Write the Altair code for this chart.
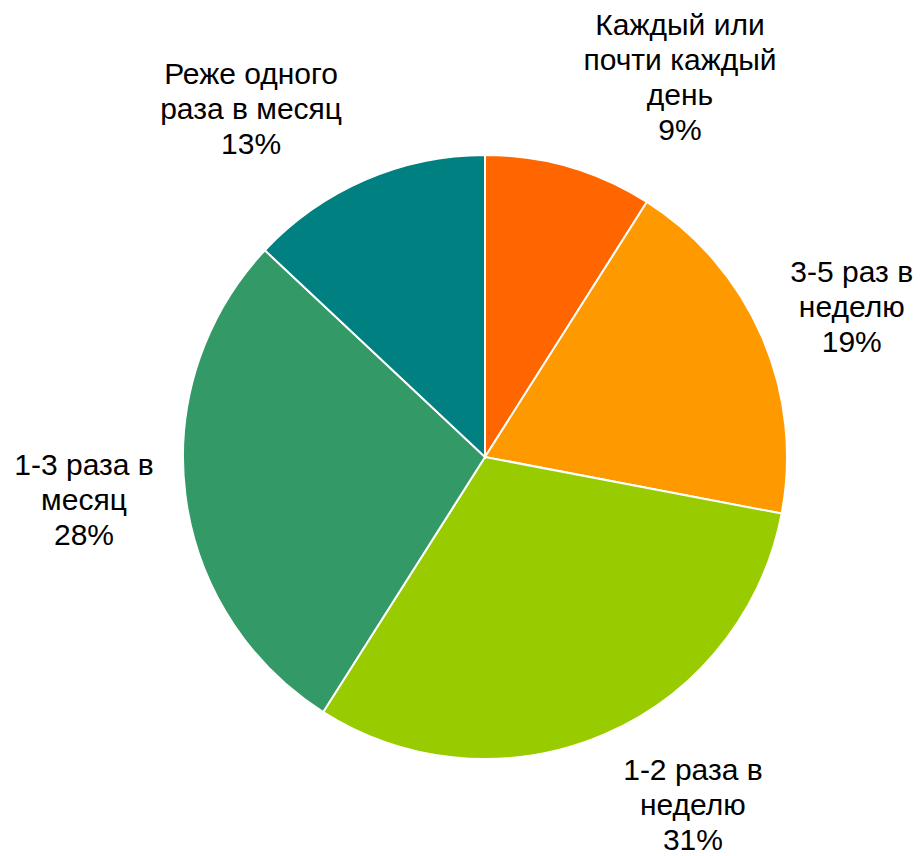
import altair as alt
import pandas as pd

categories = [
    "Каждый или почти каждый день",
    "3-5 раз в неделю",
    "1-2 раза в неделю",
    "1-3 раза в месяц",
    "Реже одного раза в месяц",
]
labels = [
    "Каждый или\nпочти каждый\nдень\n9%",
    "3-5 раз в\nнеделю\n19%",
    "1-2 раза в\nнеделю\n31%",
    "1-3 раза в\nмесяц\n28%",
    "Реже одного\nраза в месяц\n13%",
]
values = [9, 19, 31, 28, 13]
colors = ["#FF6600", "#FF9900", "#99CC00", "#339966", "#008080"]

df = pd.DataFrame({"cat": categories, "label": labels, "value": values,
                   "order": list(range(len(values)))})

CX, CY = 477, 449
R = 302

pie = alt.Chart(df).mark_arc(outerRadius=R, stroke="white", strokeWidth=2).encode(
    theta=alt.Theta("value:Q", stack=True),
    order=alt.Order("order:Q", sort="ascending"),
    x=alt.value(CX), y=alt.value(CY),
    color=alt.Color("cat:N", scale=alt.Scale(domain=categories, range=colors), legend=None),
)

text_base = alt.Chart(df).transform_window(
    cum="sum(value)", sort=[alt.SortField("order", order="ascending")],
    frame=[None, 0],
).transform_calculate(mid="datum.cum - datum.value / 2")

offsets = [(89, -66), (18, -33), (57, -35), (-24, -39), (-83, -33)]
layers = [pie]
for cat, (dx, dy) in zip(categories, offsets):
    layers.append(
        text_base.transform_filter(alt.datum.cat == cat)
        .mark_text(radius=380, dx=dx, dy=dy, font="Liberation Sans", fontSize=30,
                   lineBreak="\n", lineHeight=35, align="center", baseline="middle",
                   color="black")
        .encode(theta=alt.Theta("mid:Q", stack=None),
                x=alt.value(CX), y=alt.value(CY), text="label:N")
    )

chart = alt.layer(*layers).properties(
    width=906, height=848, autosize=alt.AutoSizeParams(type="none"), padding=0
).configure_view(stroke=None)

chart.save("out.html", embed_options={"renderer": "svg", "actions": False})
